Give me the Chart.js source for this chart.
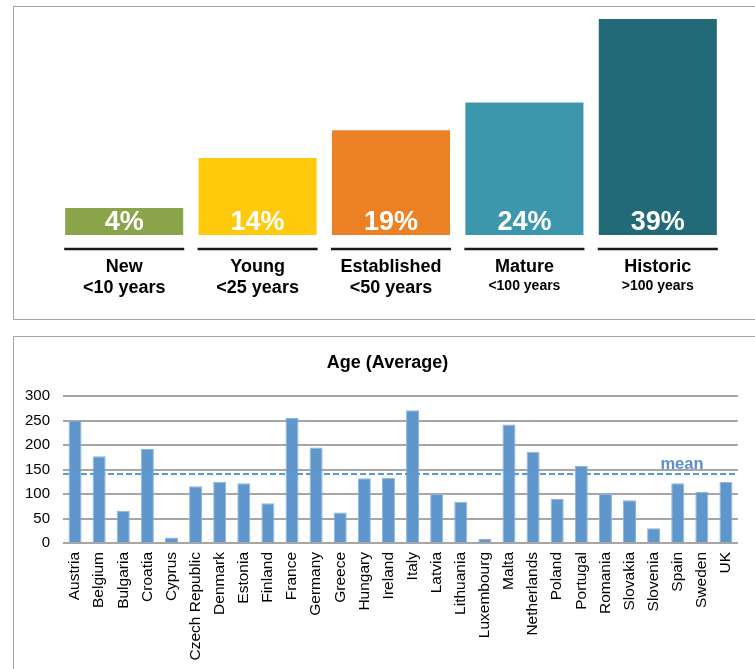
<!DOCTYPE html>
<html>
<head>
<meta charset="utf-8">
<script src="https://cdn.jsdelivr.net/npm/chart.js@4.4.1/dist/chart.umd.min.js"></script>
<style>
	body { margin: 0; background: #fff; width: 755px; height: 669px; overflow: hidden; position: relative; }
	.panel { position: absolute; border: 1.5px solid #a6a6a6; box-sizing: border-box; }
	#topPanel { left: 13px; top: 6px; width: 770px; height: 314px; }
	#bottomPanel { left: 13px; top: 336px; width: 770px; height: 360px; }
	canvas { position: absolute; left: 0; }
	#tierChart { top: 0; }
	#ageChart { top: 336px; }
</style>
</head>
<body>
<div class="panel" id="topPanel"></div>
<div class="panel" id="bottomPanel"></div>
<canvas id="tierChart" width="755" height="320"></canvas>
<canvas id="ageChart" width="755" height="333"></canvas>

<script>
// top chart : share of organisations per age group
const tierNames = ['New', 'Young', 'Established', 'Mature', 'Historic'];
const tierRanges = ['<10 years', '<25 years', '<50 years', '<100 years', '>100 years'];
const tierShares = [4, 14, 19, 24, 39];

// bottom chart : average age per country
const countries = ['Austria', 'Belgium', 'Bulgaria', 'Croatia', 'Cyprus', 'Czech Republic', 'Denmark',
	'Estonia', 'Finland', 'France', 'Germany', 'Greece', 'Hungary', 'Ireland', 'Italy', 'Latvia',
	'Lithuania', 'Luxembourg', 'Malta', 'Netherlands', 'Poland', 'Portugal', 'Romania', 'Slovakia',
	'Slovenia', 'Spain', 'Sweden', 'UK'];
const ages = [250, 177, 66, 192, 11, 116, 125, 122, 81, 255, 195, 62, 132, 133, 271, 100,
	84, 8, 242, 186, 90, 157, 100, 87, 30, 122, 104, 125];
const meanAge = 141;
const ageTicks = [0, 50, 100, 150, 200, 250, 300];

const FONT = '"Liberation Sans", Arial, sans-serif';
const tierColors = ['#8aa44a', '#ffc90c', '#ec8024', '#3c97ad', '#226a78'];

// percentages inside the bars + black rule + two line labels below
const tierLabels = {
	id: 'tierLabels',
	afterDatasetsDraw(chart)
	{
		const ctx = chart.ctx;
		const meta = chart.getDatasetMeta(0);
		const base = chart.scales.y.getPixelForValue(0);
		ctx.save();
		ctx.textAlign = 'center';
		ctx.textBaseline = 'middle';
		meta.data.forEach((bar, i) => {
			const left = bar.x - bar.width / 2;
			ctx.fillStyle = '#fff';
			ctx.font = 'bold 27px ' + FONT;
			ctx.fillText(tierShares[i] + '%', bar.x, base - 12);

			ctx.strokeStyle = '#1a1a1a';
			ctx.lineWidth = 2.5;
			ctx.beginPath();
			ctx.moveTo(left, base + 14);
			ctx.lineTo(left + bar.width, base + 14);
			ctx.stroke();

			ctx.fillStyle = '#000';
			ctx.font = 'bold 18px ' + FONT;
			ctx.fillText(tierNames[i], bar.x, base + 32);
			const small = i >= 3; // the two last groups use a smaller sub label
			ctx.font = (small ? 'bold 14px ' : 'bold 18px ') + FONT;
			ctx.fillText(tierRanges[i], bar.x, base + (small ? 51 : 53));
		});
		ctx.restore();
	}
};

new Chart(document.getElementById('tierChart'), {
	type: 'bar',
	data: {
		labels: tierNames,
		datasets: [{
			data: tierShares,
			backgroundColor: tierColors,
			borderColor: 'rgba(255,255,255,0.35)',
			borderWidth: 1,
			barPercentage: 0.9,
			categoryPercentage: 1,
			minBarLength: 28
		}]
	},
	options: {
		responsive: false,
		animation: false,
		layout: { padding: { left: 57.5, right: 30.5, top: 18, bottom: 85 } },
		plugins: { legend: { display: false }, tooltip: { enabled: false } },
		scales: {
			x: { display: false },
			y: { display: false, min: 0, max: 39 }
		}
	},
	plugins: [tierLabels]
});

// dashed mean line, its label and the chart title
const meanLine = {
	id: 'meanLine',
	afterDatasetsDraw(chart)
	{
		const ctx = chart.ctx;
		const a = chart.chartArea;
		const py = chart.scales.y.getPixelForValue(meanAge);
		ctx.save();
		ctx.strokeStyle = '#5b9bd5';
		ctx.lineWidth = 2;
		ctx.setLineDash([6, 3]);
		ctx.beginPath();
		ctx.moveTo(a.left, py);
		ctx.lineTo(a.right, py);
		ctx.stroke();
		ctx.setLineDash([]);

		ctx.textAlign = 'center';
		ctx.textBaseline = 'middle';
		ctx.fillStyle = '#5b8fd0';
		ctx.font = 'bold 16.5px ' + FONT;
		ctx.fillText('mean', a.right - 56, py - 9);

		ctx.fillStyle = '#000';
		ctx.font = 'bold 18px ' + FONT;
		ctx.fillText('Age (Average)', 387.5, 27);
		ctx.restore();
	}
};

new Chart(document.getElementById('ageChart'), {
	type: 'bar',
	data: {
		labels: countries,
		datasets: [{
			data: ages,
			backgroundColor: '#5f96cb',
			borderColor: '#8db5de',
			borderWidth: 1,
			barPercentage: 0.54,
			categoryPercentage: 1
		}]
	},
	options: {
		responsive: false,
		animation: false,
		layout: { padding: { left: 0, right: 17, top: 60, bottom: 0 } },
		plugins: { legend: { display: false }, tooltip: { enabled: false } },
		scales: {
			x: {
				grid: { display: false, drawTicks: false },
				border: { display: false },
				ticks: { minRotation: 90, maxRotation: 90, autoSkip: false, padding: 9, color: '#000', font: { size: 15.5, family: FONT } },
				afterFit(s) { s.height = 126; }
			},
			y: {
				min: 0,
				max: 300,
				afterBuildTicks(s) { s.ticks = ageTicks.map(v => ({ value: v })); },
				grid: { color: '#a6a6a6', lineWidth: 2, drawTicks: false },
				border: { display: false },
				ticks: { padding: 13, color: '#000', font: { size: 15, family: FONT } },
				afterFit(s) { s.width = 63; }
			}
		}
	},
	plugins: [meanLine]
});
</script>
</body>
</html>
